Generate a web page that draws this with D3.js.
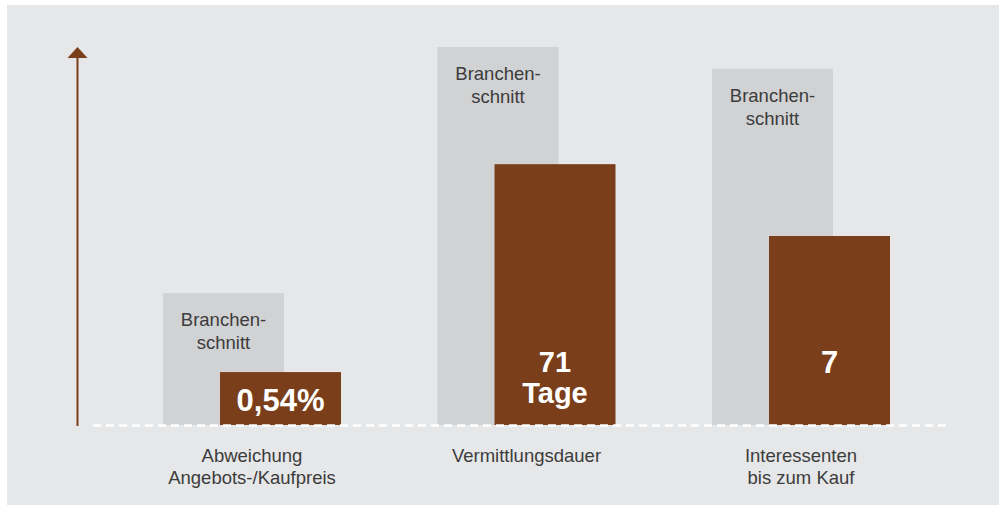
<!DOCTYPE html>
<html>
<head>
<meta charset="utf-8">
<script src="https://cdn.jsdelivr.net/npm/d3@7"></script>
<style>
  html, body { margin: 0; padding: 0; background: #fff; }
  svg { display: block; font-family: "Liberation Sans", Arial, sans-serif; }
</style>
</head>
<body>
<div id="chart"></div>
<script>
// Kennzahlen im Vergleich zum Branchenschnitt (Index, höchster Balken = 100)
const categories = ['Abweichung\nAngebots-/Kaufpreis', 'Vermittlungsdauer', 'Interessenten\nbis zum Kauf'];
const industryIndex = [34.9, 100, 94.2];
const ownIndex = [14.0, 69.0, 50.0];
const ownLabels = ['0,54%', '71\nTage', '7'];
const industryLabel = 'Branchen-\nschnitt';

const W = 1006, H = 510;
const svg = d3.select('#chart').append('svg').attr('width', W).attr('height', H);

// panel
svg.append('rect').attr('x', 7).attr('y', 5).attr('width', 992).attr('height', 500).attr('fill', '#e6e7e8');

const baseY = 425;
const y = d3.scaleLinear().domain([0, 100]).range([baseY, 47]);
const x = d3.scalePoint().domain(categories).range([114.75, 938.25]).padding(0.5);
const barW = 121, offset = 57;

const groups = svg.selectAll('.grp')
  .data(categories.map((c, i) => ({ c, ind: industryIndex[i], own: ownIndex[i], lab: ownLabels[i] })))
  .join('g').attr('class', 'grp');

// left edge of the grey bar
const gx = d => x(d.c) - (barW + offset) / 2;

// industry bars
groups.append('rect')
  .attr('x', d => gx(d)).attr('y', d => y(d.ind))
  .attr('width', barW).attr('height', d => baseY - y(d.ind))
  .attr('fill', '#d1d2d4');

groups.append('text')
  .attr('text-anchor', 'middle').attr('fill', '#3c3c3c').attr('font-size', 18.5)
  .selectAll('tspan').data(d => industryLabel.split('\n').map((t, k) => ({ t, k, d })))
  .join('tspan')
  .attr('x', o => gx(o.d) + barW / 2)
  .attr('y', o => y(o.d.ind) + 33 + o.k * 23)
  .text(o => o.t);

// own bars
groups.append('rect')
  .attr('x', d => gx(d) + offset).attr('y', d => y(d.own))
  .attr('width', barW).attr('height', d => baseY - y(d.own))
  .attr('fill', '#7a3f1a');

groups.append('text')
  .attr('text-anchor', 'middle').attr('fill', '#fff').attr('font-weight', 'bold')
  .attr('font-size', d => d.lab.includes('\n') ? 29 : 31)
  .selectAll('tspan').data(d => {
    const lines = d.lab.split('\n');
    const start = lines.length > 1 ? 372 : (d.own < 20 ? 411 : 373);
    return lines.map((t, k) => ({ t, k, d, start }));
  })
  .join('tspan')
  .attr('x', o => gx(o.d) + offset + barW / 2)
  .attr('y', o => o.start + o.k * 31)
  .text(o => o.t);

// category labels
groups.append('text')
  .attr('text-anchor', 'middle').attr('fill', '#3c3c3c').attr('font-size', 18.5)
  .selectAll('tspan').data(d => d.c.split('\n').map((t, k) => ({ t, k, d })))
  .join('tspan')
  .attr('x', o => x(o.d.c))
  .attr('y', o => 462 + o.k * 22)
  .text(o => o.t);

// baseline
svg.append('line')
  .attr('x1', 93).attr('x2', 950).attr('y1', baseY + 0.5).attr('y2', baseY + 0.5)
  .attr('stroke', '#fff').attr('stroke-width', 2.5).attr('stroke-dasharray', '8,5');

// axis arrow
svg.append('line')
  .attr('x1', 77.5).attr('x2', 77.5).attr('y1', 426).attr('y2', 55)
  .attr('stroke', '#7a3f1a').attr('stroke-width', 2);
svg.append('path')
  .attr('d', 'M67.5,58 L77.5,47 L87.5,58 Z')
  .attr('fill', '#7a3f1a');
</script>
</body>
</html>
